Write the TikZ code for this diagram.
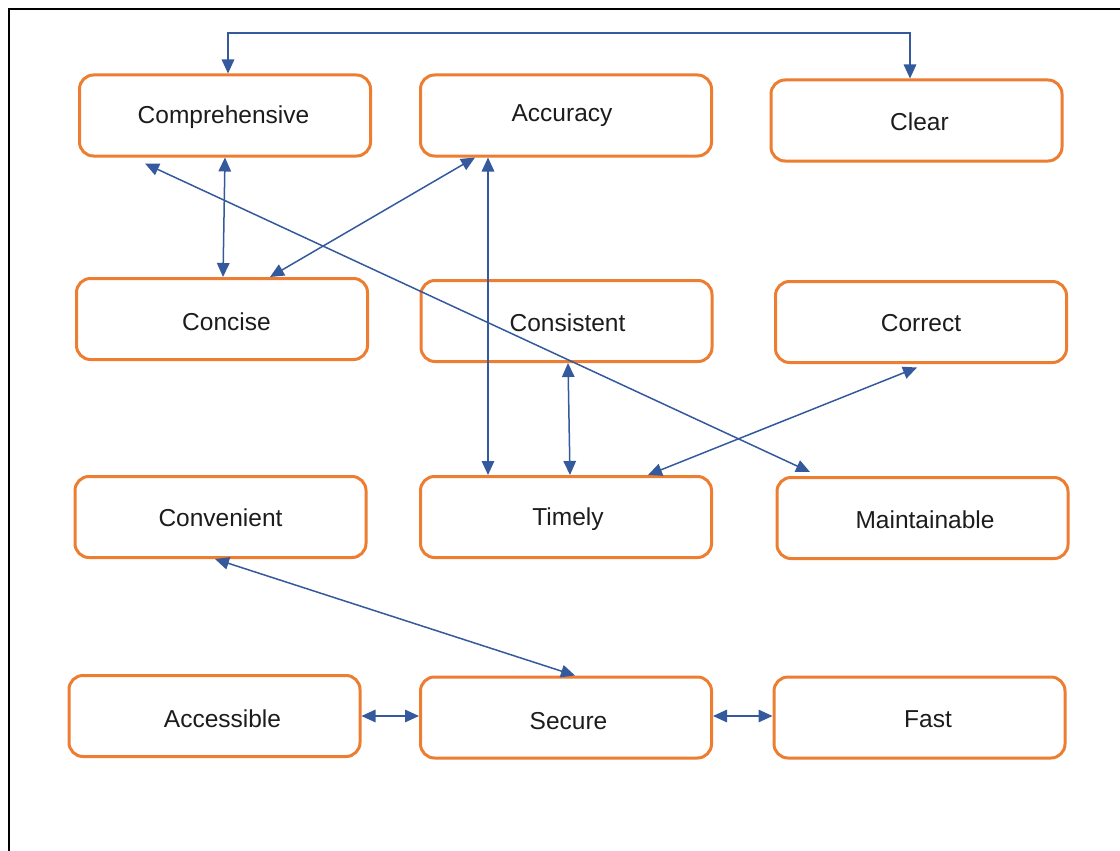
\documentclass[tikz,border=0pt]{standalone}
\usepackage{fontspec}
\setmainfont{Liberation Sans}
\usetikzlibrary{arrows.meta}
\definecolor{boxorange}{HTML}{ED7D31}
\definecolor{linkblue}{HTML}{34599C}
\definecolor{inkgray}{HTML}{1C1C1C}
% label nudged inside its box: #1 = twice the sideways offset, #2 = drop
\newcommand\boxlabel[3]{\hspace*{#1}\raisebox{#2}[\height][\depth]{#3}}
\tikzset{
  qbox/.style={draw=boxorange, line width=3pt, rounded corners=14pt,
    minimum width=291pt, minimum height=81pt, inner sep=0pt,
    text=inkgray, font=\fontsize{24.5pt}{28pt}\selectfont},
  link/.style={draw=linkblue, line width=1.5pt,
    {Triangle[length=14pt,width=12.5pt]}-{Triangle[length=14pt,width=12.5pt]}},
  frameline/.style={draw=black, line width=2.6pt}
}
\begin{document}
\begin{tikzpicture}[x=1pt, y=-1pt]
\useasboundingbox (0,0) rectangle (1120,851);
% outer frame (top and left edges)
\draw[frameline] (9,851) -- (9,9) -- (1120,9);

% quality attribute boxes
\node[qbox] (comp)   at (225,115.5)   {\boxlabel{-3pt}{-2pt}{Comprehensive}};
\node[qbox] (acc)    at (566,115.5)   {\boxlabel{-8pt}{0pt}{Accuracy}};
\node[qbox] (clear)  at (916.5,120.5) {\boxlabel{6pt}{-1pt}{Clear}};
\node[qbox] (concise) at (222,319)    {\boxlabel{9pt}{-3pt}{Concise}};
\node[qbox] (consist) at (566.5,321)  {\boxlabel{2pt}{-2pt}{Consistent}};
\node[qbox] (correct) at (921,322)    {\boxlabel{0pt}{-1pt}{Correct}};
\node[qbox] (conv)   at (220.5,517)   {\boxlabel{0pt}{-1pt}{Convenient}};
\node[qbox] (timely) at (566,517)     {\boxlabel{4pt}{-2pt}{Timely}};
\node[qbox] (maint)  at (922.5,518)   {\boxlabel{5pt}{-2pt}{Maintainable}};
\node[qbox] (access) at (214.5,716)   {\boxlabel{16pt}{-3pt}{Accessible}};
\node[qbox] (secure) at (566,717.5)   {\boxlabel{5pt}{-4pt}{Secure}};
\node[qbox] (fast)   at (919.5,717.5) {\boxlabel{17pt}{-2pt}{Fast}};

% bends of the top connector
\coordinate (tl) at (228,33);
\coordinate (tr) at (910,33);

% connectors
\draw[link] (tl |- comp.north) -- (tl) -- (tr) -- (tr |- clear.north);
\draw[link] (comp.south) -- ([xshift=1pt]concise.north);
\draw[link] ([xshift=-91pt]acc.south) -- ([xshift=48pt]concise.north);
\draw[link] ([xshift=-78pt]acc.south) -- ([xshift=-78pt]timely.north);
\draw[link] ([shift={(-80pt,-6pt)}]comp.south) -- ([shift={(-112.5pt,4pt)}]maint.north);
\draw[link] ([xshift=1.5pt]consist.south) -- ([xshift=4pt]timely.north);
\draw[link] ([shift={(-4pt,-3.5pt)}]correct.south) -- ([xshift=82pt]timely.north);
\draw[link] ([xshift=-5.5pt]conv.south) -- ([xshift=9pt]secure.north);
\draw[link] (access.east) -- (secure.west |- access.east);
\draw[link] ([yshift=1.5pt]secure.east) -- ([yshift=1.5pt]fast.west);
\end{tikzpicture}
\end{document}
